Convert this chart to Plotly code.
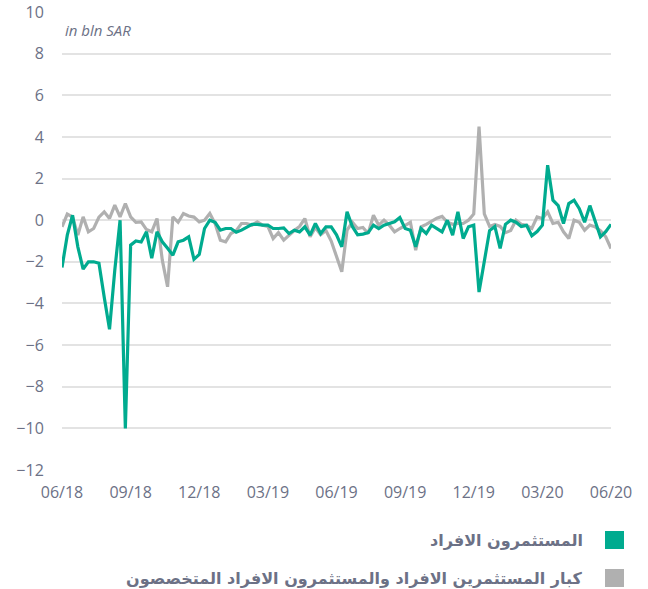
import pandas as pd
import plotly.graph_objects as go

# Weekly net flows, in bln SAR
weeks = pd.date_range("2018-06-01", periods=105, freq="7D")

individuals = [
    -2.27, -0.72, 0.24, -1.28, -2.35, -2.0, -2.0, -2.07, -3.7, -5.24,
    -2.4, 0.0, -10.0, -1.2, -1.0, -1.05, -0.56, -1.83, -0.56, -1.04,
    -1.35, -1.68, -1.04, -0.96, -0.8, -1.88, -1.65, -0.4, 0.0, -0.1,
    -0.48, -0.4, -0.4, -0.58, -0.48, -0.32, -0.2, -0.2, -0.24, -0.24,
    -0.4, -0.4, -0.37, -0.64, -0.48, -0.56, -0.32, -0.72, -0.16, -0.64,
    -0.32, -0.32, -0.7, -1.28, 0.4, -0.3, -0.7, -0.67, -0.6, -0.24,
    -0.4, -0.24, -0.16, -0.08, 0.13, -0.4, -0.48, -1.28, -0.4, -0.64,
    -0.24, -0.4, -0.56, 0.0, -0.72, 0.4, -0.88, -0.32, -0.24, -3.45,
    -1.9, -0.5, -0.3, -1.35, -0.2, 0.0, -0.1, -0.3, -0.25, -0.75,
    -0.55, -0.24, 2.64, 0.96, 0.7, -0.16, 0.8, 0.96, 0.55, -0.1,
    0.7, 0.0, -0.8, -0.55, -0.2,
]

hnw_and_qualified = [
    -0.32, 0.29, 0.15, -0.72, 0.16, -0.56, -0.4, 0.15, 0.4, 0.08,
    0.72, 0.16, 0.8, 0.16, -0.1, -0.08, -0.45, -0.56, 0.08, -1.92,
    -3.2, 0.16, -0.1, 0.32, 0.2, 0.15, -0.08, 0.0, 0.32, -0.16,
    -0.96, -1.04, -0.64, -0.5, -0.16, -0.16, -0.24, -0.08, -0.24, -0.3,
    -0.88, -0.6, -0.96, -0.72, -0.5, -0.3, 0.08, -0.8, -0.35, -0.7,
    -0.5, -1.0, -1.7, -2.48, -0.48, -0.1, -0.4, -0.35, -0.64, 0.24,
    -0.24, 0.0, -0.24, -0.56, -0.4, -0.24, -0.1, -1.44, -0.32, -0.2,
    -0.05, 0.1, 0.18, -0.1, -0.2, -0.16, -0.16, 0.0, 0.3, 4.5,
    0.3, -0.3, -0.2, -0.3, -0.6, -0.5, 0.0, -0.2, -0.24, -0.4,
    0.16, 0.08, 0.4, -0.16, -0.1, -0.56, -0.88, 0.0, -0.1, -0.48,
    -0.24, -0.32, -0.5, -0.8, -1.36,
]

tick_labels = ["06/18", "09/18", "12/18", "03/19", "06/19", "09/19", "12/19", "03/20", "06/20"]
y_ticks = list(range(-12, 11, 2))

name_individuals = "المستثمرون الافراد"
name_hnw = "كبار المستثمرين الافراد والمستثمرون الافراد المتخصصون"

GREEN = "#00ab8f"
GREY = "#b0b0b0"
TEXT = "#6c7186"

W, H = 648, 589
M_L, M_R, M_T, M_B = 62, 37, 12, 119
PLOT_W = W - M_L - M_R
PLOT_H = H - M_T - M_B


def px_x(x):
    """Pixel column -> paper x (relative to plot area)."""
    return (x - M_L) / PLOT_W


def px_y(y):
    """Pixel row -> paper y (relative to plot area)."""
    return (H - M_B - y) / PLOT_H


fig = go.Figure()
fig.add_trace(go.Scatter(x=weeks, y=hnw_and_qualified, mode="lines", name=name_hnw,
                         line=dict(color=GREY, width=3.2)))
fig.add_trace(go.Scatter(x=weeks, y=individuals, mode="lines", name=name_individuals,
                         line=dict(color=GREEN, width=3.2)))

fig.update_layout(
    width=W, height=H,
    margin=dict(l=M_L, r=M_R, t=M_T, b=M_B),
    paper_bgcolor="white", plot_bgcolor="white",
    showlegend=False,
    font=dict(family="Open Sans, DejaVu Sans", color=TEXT, size=16),
)
fig.update_xaxes(
    range=[weeks[0], weeks[-1]], automargin=False,
    tickvals=list(weeks[::13]), ticktext=tick_labels,
    showgrid=False, zeroline=False, showline=False,
    ticks="outside", ticklen=8, tickcolor="rgba(0,0,0,0)",
    tickfont=dict(size=16, color=TEXT),
)
fig.update_yaxes(
    range=[-12, 10], tickvals=y_ticks, automargin=False,
    showgrid=True, gridcolor="#e3e3e3", gridwidth=1.5,
    zeroline=False, showline=False,
    ticks="outside", ticklen=14, tickcolor="rgba(0,0,0,0)",
    tickfont=dict(size=16, color=TEXT),
)

fig.add_annotation(text="<i>in bln SAR</i>", xref="paper", yref="paper",
                   x=px_x(63), y=px_y(30), xanchor="left", yanchor="middle",
                   showarrow=False,
                   font=dict(size=15, color=TEXT, family="Open Sans"))

# Right-to-left legend: colour key on the right, label to its left
legend_rows = [(name_individuals, GREEN, 540), (name_hnw, GREY, 578)]
for label, color, ypix in legend_rows:
    fig.add_shape(type="rect", xref="paper", yref="paper",
                  x0=px_x(605), x1=px_x(624), y0=px_y(ypix + 9), y1=px_y(ypix - 9),
                  fillcolor=color, line=dict(width=0), layer="above")
    fig.add_annotation(text="<b>" + label + "</b>", xref="paper", yref="paper",
                       x=px_x(585), y=px_y(ypix), xanchor="right", yanchor="middle",
                       showarrow=False,
                       font=dict(size=16, color=TEXT, family="DejaVu Sans"))

fig.write_html("out.html")
